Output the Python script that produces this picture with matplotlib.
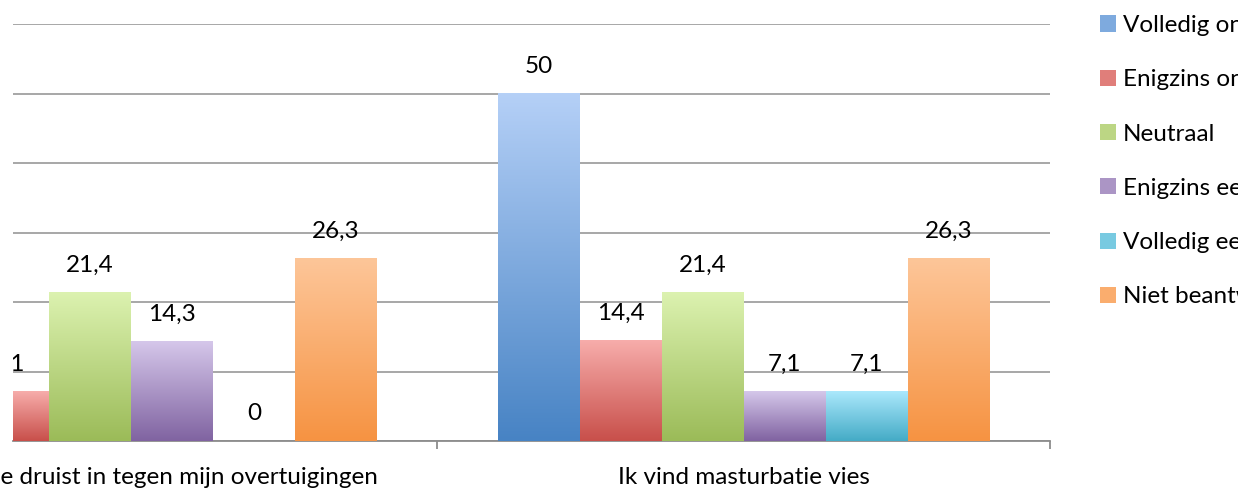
import matplotlib
matplotlib.use('Agg')
import matplotlib.pyplot as plt
import numpy as np
from matplotlib.colors import to_rgb
from matplotlib.patches import Patch

plt.rcParams['font.family'] = ['Lato', 'DejaVu Sans']

# data
categories = ['Masturbatie druist in tegen mijn overtuigingen', 'Ik vind masturbatie vies']
series = ['Volledig oneens', 'Enigzins oneens', 'Neutraal', 'Enigzins eens', 'Volledig eens', 'Niet beantwoord']
values = [
    [30.9, 50],    # Volledig oneens (first one is off-picture)
    [7.1, 14.4],   # Enigzins oneens
    [21.4, 21.4],  # Neutraal
    [14.3, 7.1],   # Enigzins eens
    [0, 7.1],      # Volledig eens
    [26.3, 26.3],  # Niet beantwoord
]
labels = [[str(v).replace('.', ',') if v != int(v) else str(int(v)) for v in row] for row in values]

# gradient colours, top -> bottom
tops = ['#b5d0f7', '#f7adab', '#dcf2b0', '#d5c7ea', '#abe8fc', '#fdc699']
bottoms = ['#4783c4', '#c84f4a', '#9bbb58', '#8063a1', '#44abc6', '#f69342']

FS = 17.5
W, H = 1238, 493
fig = plt.figure(figsize=(W / 100, H / 100), dpi=100)
ax = fig.add_axes([13 / W, (H - 441) / H, (1050 - 13) / W, (441 - 24) / H])

x = np.arange(len(categories))
bw = 82 / 613
grad = np.linspace(0, 1, 256)

for i, name in enumerate(series):
    offs = (i - 2.5) * bw
    bars = ax.bar(x + offs, values[i], bw, color='none', zorder=3)
    c1, c2 = np.array(to_rgb(tops[i])), np.array(to_rgb(bottoms[i]))
    img = (c1[None, :] * (1 - grad[:, None]) + c2[None, :] * grad[:, None])[:, None, :]
    for b, lab in zip(bars, labels[i]):
        h = b.get_height()
        if h > 0:
            ax.imshow(img, extent=[b.get_x(), b.get_x() + b.get_width(), 0, h],
                      origin='upper', aspect='auto', zorder=3)
        ax.annotate(lab, (b.get_x() + b.get_width() / 2, h), xytext=(0, 19.5),
                    textcoords='offset points', ha='center', va='center',
                    fontsize=FS, color='black', annotation_clip=False, clip_on=True)

ax.set_xlim((13 - 131) / 613, 1.5)
ax.set_ylim(0, 60)
ax.set_yticks(np.arange(0, 61, 10))
ax.tick_params(axis='y', left=False, labelleft=False)
ax.grid(axis='y', color='#a0a0a0', linewidth=1.3, zorder=0)
for s in ['top', 'right', 'left']:
    ax.spines[s].set_visible(False)
ax.spines['bottom'].set_color('#8c8c8c')
ax.spines['bottom'].set_linewidth(1.3)

ax.set_xticks(x)
ax.set_xticklabels(categories, fontsize=FS)
ax.tick_params(axis='x', which='major', length=0, pad=19)
ax.set_xticks([0.5, 1.5], minor=True)
ax.tick_params(axis='x', which='minor', length=6, color='#8c8c8c', width=1.3)

handles = [Patch(facecolor=tuple((np.array(to_rgb(t)) + np.array(to_rgb(b))) / 2), edgecolor='none')
           for t, b in zip(tops, bottoms)]
fig.legend(handles, series, loc='upper left', bbox_to_anchor=(1100 / W, (H - 15) / H),
           frameon=False, fontsize=FS, handlelength=0.65, handleheight=0.65,
           handletextpad=0.3, labelspacing=1.37, borderpad=0, borderaxespad=0)

fig.savefig('out.png', dpi=100)
